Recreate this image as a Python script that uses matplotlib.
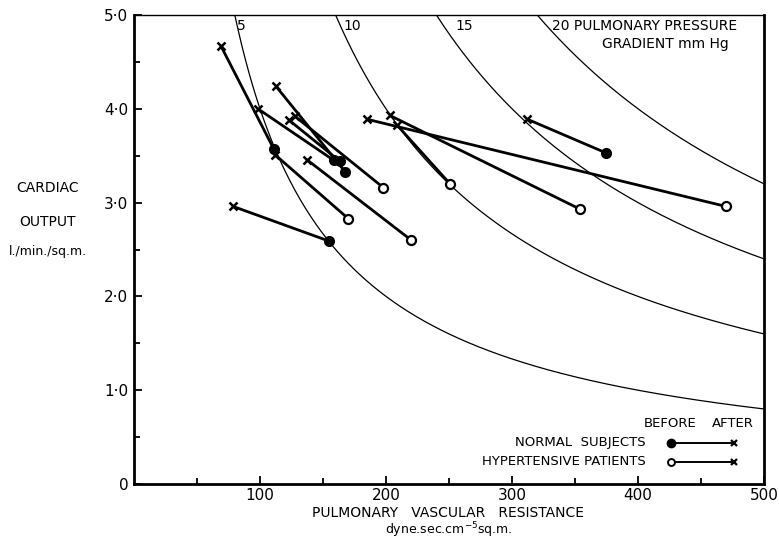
import matplotlib
matplotlib.use("Agg")
import matplotlib.pyplot as plt
import numpy as np

plt.rcParams['font.family'] = ['DejaVu Sans']

# isobar levels (mm Hg); gradient = CO * PVR / 80
pressure_levels = [5, 10, 15, 20]

# normal subjects: before (filled dot) -> after (cross)
normal_before_pvr = [111, 158.7, 163.5, 167.5, 154.8, 374.6]
normal_before_co = [3.57, 3.45, 3.44, 3.33, 2.59, 3.53]
normal_after_pvr = [69, 98.4, 123, 112.7, 78.6, 312]
normal_after_co = [4.67, 4.00, 3.88, 4.24, 2.96, 3.89]

# hypertensive patients: before (open circle) -> after (cross)
hyper_before_pvr = [197.9, 170, 220, 250.8, 354, 469.6]
hyper_before_co = [3.16, 2.83, 2.60, 3.20, 2.93, 2.96]
hyper_after_pvr = [127.8, 112, 137, 208.5, 203, 184.7]
hyper_after_co = [3.92, 3.51, 3.46, 3.83, 3.93, 3.89]

x_ticks = [100, 200, 300, 400, 500]
y_ticks = [0, 1, 2, 3, 4, 5]
y_tick_labels = ['0', '1\u00b70', '2\u00b70', '3\u00b70', '4\u00b70', '5\u00b70']

fig = plt.figure(figsize=(7.79, 5.39), dpi=100)
ax = fig.add_axes([0.172, 0.102, 0.809, 0.870])

# pressure gradient isobars
for p in pressure_levels:
    r = np.linspace(80 * p / 5.0, 500, 300)
    ax.plot(r, 80 * p / r, color='black', lw=0.9)

# before -> after segments
for xb, yb, xa, ya in zip(normal_before_pvr, normal_before_co, normal_after_pvr, normal_after_co):
    ax.plot([xb, xa], [yb, ya], color='black', lw=2.0, solid_capstyle='butt')
for xb, yb, xa, ya in zip(hyper_before_pvr, hyper_before_co, hyper_after_pvr, hyper_after_co):
    ax.plot([xb, xa], [yb, ya], color='black', lw=2.0, solid_capstyle='butt')

ax.plot(normal_before_pvr, normal_before_co, 'o', color='black', ms=7, zorder=5)
ax.plot(hyper_before_pvr, hyper_before_co, 'o', mfc='white', mec='black', mew=1.6, ms=6.5, zorder=5)
ax.plot(normal_after_pvr + hyper_after_pvr, normal_after_co + hyper_after_co, 'x',
        color='black', ms=6, mew=1.8, zorder=5)

# isobar labels
lab_kw = dict(fontsize=10, va='center', ha='left')
ax.text(82, 4.88, '5', **lab_kw)
ax.text(166, 4.88, '10', **lab_kw)
ax.text(255, 4.88, '15', **lab_kw)
ax.text(332, 4.88, '20 PULMONARY PRESSURE', **lab_kw)
ax.text(371, 4.69, 'GRADIENT mm Hg', **lab_kw)

# legend drawn by hand
ax.text(425, 0.64, 'BEFORE', fontsize=9.5, ha='center', va='center')
ax.text(475, 0.64, 'AFTER', fontsize=9.5, ha='center', va='center')
ax.text(406, 0.44, 'NORMAL  SUBJECTS', fontsize=9.5, ha='right', va='center')
ax.text(406, 0.235, 'HYPERTENSIVE PATIENTS', fontsize=9.5, ha='right', va='center')
ax.plot([426, 476], [0.44, 0.44], color='black', lw=1.4)
ax.plot([426], [0.44], 'o', color='black', ms=6)
ax.plot([476], [0.44], 'x', color='black', ms=5, mew=1.6)
ax.plot([426, 476], [0.235, 0.235], color='black', lw=1.4)
ax.plot([426], [0.235], 'o', mfc='white', mec='black', mew=1.4, ms=5)
ax.plot([476], [0.235], 'x', color='black', ms=5, mew=1.6)

ax.set_xlim(0, 500)
ax.set_ylim(0, 5)
ax.set_xticks(x_ticks)
ax.set_xticks(np.arange(50, 500, 100), minor=True)
ax.set_yticks(y_ticks)
ax.set_yticklabels(y_tick_labels)
ax.set_yticks(np.arange(0.5, 5, 1.0), minor=True)
ax.tick_params(which='both', direction='in', labelsize=11, width=1.3)
ax.tick_params(which='major', length=6, pad=4)
ax.tick_params(which='minor', length=4)
ax.tick_params(axis='x', pad=3)

for side in ['left', 'bottom', 'right']:
    ax.spines[side].set_linewidth(2.0)
ax.spines['top'].set_linewidth(1.0)

# axis titles
fig.text(48 / 779, 1 - 188 / 539, 'CARDIAC', fontsize=10, ha='center', va='center')
fig.text(48 / 779, 1 - 222 / 539, 'OUTPUT', fontsize=10, ha='center', va='center')
fig.text(48 / 779, 1 - 252 / 539, 'l./min./sq.m.', fontsize=9, ha='center', va='center')
fig.text(448 / 779, 1 - 513 / 539, 'PULMONARY   VASCULAR   RESISTANCE', fontsize=10,
         ha='center', va='center')
fig.text(448 / 779, 1 - 530 / 539, 'dyne.sec.cm$^{-5}$sq.m.', fontsize=9,
         ha='center', va='center')

fig.savefig('out.png', dpi=100)
